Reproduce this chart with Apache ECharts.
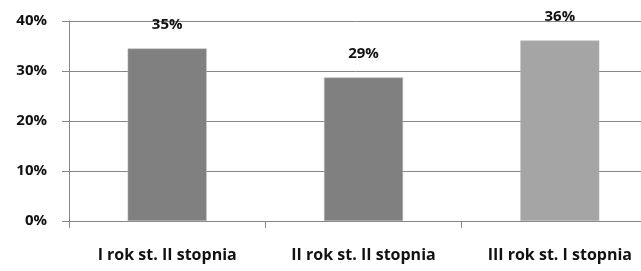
<!DOCTYPE html>
<html>
<head>
<meta charset="utf-8">
<script src="https://cdn.jsdelivr.net/npm/echarts@6/dist/echarts.min.js"></script>
<style>
  html, body { margin: 0; padding: 0; background: #fff; }
  #chart { width: 641px; height: 271px; }
</style>
</head>
<body>
<div id="chart"></div>
<script>
const categories = ['I rok st. II stopnia', 'II rok st. II stopnia', 'III rok st. I stopnia']
const values = [34.5, 28.7, 36.1]
const barColors = ['#808080', '#808080', '#a5a5a5']
const yTicks = [0, 10, 20, 30, 40]

const chart = echarts.init(document.getElementById('chart'), null, { renderer: 'canvas' })
const font = '"Open Sans", sans-serif'

chart.setOption({
  animation: false,
  backgroundColor: '#fff',
  grid: { left: 69, width: 589, top: 21, height: 200, outerBoundsMode: 'none', containLabel: false },
  xAxis: {
    type: 'category',
    data: categories,
    axisLine: { show: true, lineStyle: { color: '#868686', width: 1 } },
    axisTick: { show: true, length: 7, lineStyle: { color: '#868686' } },
    axisLabel: { color: '#111', fontFamily: font, fontWeight: 'bold', fontSize: 16, margin: 26 },
  },
  yAxis: {
    type: 'value',
    min: yTicks[0],
    max: yTicks[yTicks.length - 1],
    interval: 10,
    axisLine: { show: true, lineStyle: { color: '#868686', width: 1 } },
    axisTick: { show: true, length: 7, lineStyle: { color: '#868686' } },
    splitLine: { lineStyle: { color: '#868686', width: 1 } },
    axisLabel: { color: '#111', fontFamily: font, fontWeight: 'bold', fontSize: 15, margin: 22, formatter: (v) => v + '%' },
  },
  series: [
    {
      type: 'bar',
      barWidth: 79,
      data: values.map((v, i) => ({ value: v, itemStyle: { color: barColors[i] } })),
      itemStyle: { borderColor: '#bbb', borderWidth: 0.5 },
      label: {
        show: true,
        position: 'top',
        distance: 16,
        color: '#111',
        fontFamily: font,
        fontWeight: 'bold',
        fontSize: 15,
        formatter: (p) => Math.round(p.value) + '%',
      },
    },
  ],
})
</script>
</body>
</html>
